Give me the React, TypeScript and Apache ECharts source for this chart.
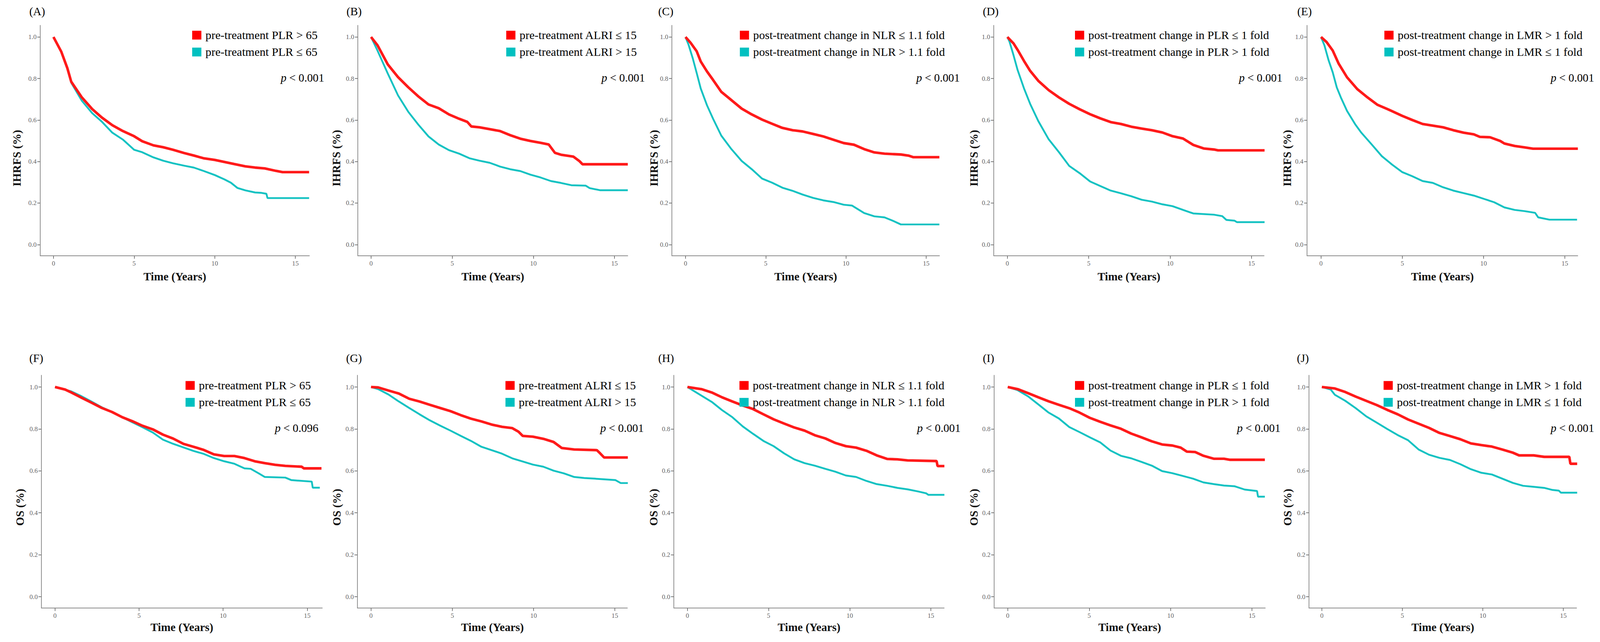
import React, { useEffect, useRef, useState } from "react";
import * as echarts from "echarts";

// ---------------- data ----------------
const panelLetters = ["(A)", "(B)", "(C)", "(D)", "(E)", "(F)", "(G)", "(H)", "(I)", "(J)"];
const yTitles = ["IHRFS (%)", "IHRFS (%)", "IHRFS (%)", "IHRFS (%)", "IHRFS (%)", "OS (%)", "OS (%)", "OS (%)", "OS (%)", "OS (%)"];
const xTitle = "Time (Years)";
const redLabels = [
  "pre-treatment PLR > 65",
  "pre-treatment ALRI ≤ 15",
  "post-treatment change in NLR ≤ 1.1 fold",
  "post-treatment change in PLR ≤ 1 fold",
  "post-treatment change in LMR > 1 fold",
  "pre-treatment PLR > 65",
  "pre-treatment ALRI ≤ 15",
  "post-treatment change in NLR ≤ 1.1 fold",
  "post-treatment change in PLR ≤ 1 fold",
  "post-treatment change in LMR > 1 fold",
];
const cyanLabels = [
  "pre-treatment PLR ≤ 65",
  "pre-treatment ALRI > 15",
  "post-treatment change in NLR > 1.1 fold",
  "post-treatment change in PLR > 1 fold",
  "post-treatment change in LMR ≤ 1 fold",
  "pre-treatment PLR ≤ 65",
  "pre-treatment ALRI > 15",
  "post-treatment change in NLR > 1.1 fold",
  "post-treatment change in PLR > 1 fold",
  "post-treatment change in LMR ≤ 1 fold",
];
const pValues = ["0.001", "0.001", "0.001", "0.001", "0.001", "0.096", "0.001", "0.001", "0.001", "0.001"];
const xTicks = [0, 5, 10, 15];
const yTicks = [0, 0.2, 0.4, 0.6, 0.8, 1.0];

// Kaplan-Meier curves: [years, survival]
const aRed = [[0,1],[0.48,0.93],[0.86,0.85],[1.1,0.785],[1.75,0.71],[2.4,0.653],[3.0,0.612],[3.65,0.575],[4.3,0.547],[5.0,0.522],[5.5,0.498],[6.2,0.478],[6.8,0.469],[7.4,0.457],[8.1,0.441],[8.7,0.429],[9.3,0.416],[10.0,0.408],[10.6,0.398],[11.2,0.388],[11.9,0.377],[12.5,0.371],[13.1,0.367],[13.8,0.355],[14.2,0.349],[15.85,0.349]];
const aCyan = [[0,1],[0.48,0.93],[0.86,0.85],[1.1,0.78],[1.75,0.694],[2.4,0.633],[3.0,0.592],[3.65,0.539],[4.3,0.506],[5.0,0.457],[5.5,0.445],[6.2,0.42],[6.8,0.404],[7.4,0.392],[8.1,0.38],[8.7,0.371],[9.3,0.355],[10.0,0.335],[10.6,0.314],[11.0,0.298],[11.4,0.273],[11.9,0.261],[12.5,0.251],[12.9,0.249],[13.2,0.245],[13.27,0.224],[15.85,0.224]];
const bRed = [[0,1],[0.4,0.96],[1.03,0.868],[1.66,0.807],[2.29,0.758],[2.91,0.714],[3.54,0.675],[4.17,0.657],[4.8,0.627],[5.43,0.606],[5.93,0.591],[6.18,0.569],[6.68,0.565],[7.31,0.556],[7.94,0.547],[8.57,0.527],[9.2,0.51],[9.82,0.499],[10.45,0.49],[10.95,0.482],[11.33,0.442],[11.7,0.433],[12.46,0.424],[12.84,0.402],[13.03,0.387],[15.82,0.387]];
const bCyan = [[0,1],[0.4,0.934],[1.03,0.824],[1.66,0.719],[2.29,0.64],[2.91,0.578],[3.54,0.521],[4.17,0.482],[4.8,0.455],[5.43,0.438],[6.06,0.416],[6.68,0.404],[7.31,0.394],[7.94,0.376],[8.57,0.363],[9.2,0.354],[9.82,0.337],[10.45,0.323],[11.08,0.306],[11.7,0.297],[12.34,0.286],[13.22,0.284],[13.47,0.272],[14.1,0.262],[15.82,0.262]];
const cRed = [[0,1],[0.32,0.972],[0.7,0.931],[0.95,0.882],[1.34,0.834],[1.72,0.793],[2.23,0.736],[2.86,0.696],[3.5,0.655],[4.13,0.627],[4.77,0.602],[5.4,0.582],[6.04,0.562],[6.68,0.551],[7.3,0.545],[7.95,0.533],[8.59,0.521],[9.22,0.505],[9.86,0.489],[10.5,0.481],[11.13,0.46],[11.77,0.444],[12.4,0.438],[13.42,0.434],[13.93,0.428],[14.2,0.421],[15.82,0.421]];
const cCyan = [[0,1],[0.19,0.963],[0.45,0.898],[0.7,0.826],[0.95,0.752],[1.34,0.671],[1.72,0.606],[2.23,0.525],[2.86,0.46],[3.5,0.403],[4.13,0.363],[4.77,0.318],[5.4,0.298],[6.04,0.274],[6.68,0.259],[7.3,0.241],[7.95,0.225],[8.59,0.213],[9.22,0.205],[9.86,0.192],[10.37,0.188],[11.13,0.152],[11.77,0.136],[12.4,0.131],[12.91,0.115],[13.42,0.097],[15.82,0.097]];
const dRed = [[0,1],[0.38,0.969],[0.63,0.938],[1.02,0.885],[1.4,0.837],[1.9,0.789],[2.54,0.744],[3.17,0.709],[3.8,0.678],[4.44,0.652],[5.08,0.628],[5.71,0.608],[6.35,0.59],[6.98,0.581],[7.61,0.568],[8.25,0.559],[8.88,0.551],[9.52,0.54],[10.15,0.522],[10.79,0.511],[11.42,0.48],[12.06,0.463],[12.69,0.458],[12.94,0.454],[15.8,0.454]];
const dCyan = [[0,1],[0.13,0.978],[0.38,0.912],[0.63,0.841],[1.02,0.753],[1.4,0.678],[1.9,0.595],[2.54,0.507],[3.17,0.445],[3.8,0.379],[4.44,0.344],[5.08,0.304],[5.71,0.282],[6.35,0.26],[6.98,0.247],[7.61,0.233],[8.25,0.216],[8.88,0.207],[9.52,0.194],[10.15,0.185],[10.79,0.167],[11.42,0.15],[12.69,0.144],[13.2,0.137],[13.45,0.119],[13.96,0.115],[14.1,0.108],[15.8,0.108]];
const eRed = [[0,1],[0.34,0.976],[0.72,0.935],[1.09,0.871],[1.6,0.806],[2.23,0.749],[2.86,0.709],[3.48,0.673],[4.11,0.652],[5.0,0.62],[5.62,0.6],[6.25,0.581],[6.88,0.573],[7.51,0.565],[8.14,0.551],[8.77,0.539],[9.4,0.531],[9.77,0.519],[10.4,0.517],[11.03,0.499],[11.28,0.487],[11.91,0.475],[12.54,0.468],[13.04,0.462],[15.8,0.462]];
const eCyan = [[0,1],[0.21,0.96],[0.47,0.887],[0.72,0.83],[0.97,0.757],[1.22,0.709],[1.6,0.644],[2.1,0.58],[2.48,0.539],[3.11,0.483],[3.74,0.426],[4.36,0.386],[5.0,0.349],[5.62,0.329],[6.25,0.306],[6.88,0.297],[7.51,0.276],[8.14,0.26],[8.77,0.248],[9.4,0.236],[10.03,0.22],[10.65,0.204],[11.28,0.179],[11.91,0.167],[12.54,0.161],[13.17,0.153],[13.36,0.131],[14.05,0.12],[15.75,0.12]];
const fRed = [[0,1],[0.6,0.988],[0.97,0.974],[1.58,0.949],[2.18,0.925],[2.79,0.9],[3.39,0.881],[4.0,0.856],[4.6,0.837],[5.21,0.815],[5.82,0.798],[6.42,0.773],[7.03,0.754],[7.64,0.729],[8.24,0.715],[8.85,0.7],[9.45,0.679],[10.06,0.671],[10.67,0.671],[11.27,0.661],[11.88,0.646],[12.48,0.637],[13.09,0.629],[13.7,0.624],[14.67,0.62],[14.8,0.612],[15.85,0.612]];
const fCyan = [[0,1],[0.97,0.979],[1.58,0.956],[2.18,0.93],[2.79,0.903],[3.39,0.881],[4.0,0.856],[4.6,0.832],[5.21,0.808],[5.82,0.783],[6.42,0.749],[7.03,0.729],[7.64,0.712],[8.24,0.695],[8.85,0.681],[9.45,0.661],[10.06,0.646],[10.67,0.634],[11.27,0.612],[11.64,0.61],[12.12,0.588],[12.48,0.571],[13.7,0.568],[14.06,0.556],[15.27,0.549],[15.33,0.52],[15.75,0.52]];
const gRed = [[0,1],[0.44,0.998],[1.08,0.983],[1.71,0.969],[2.35,0.944],[2.98,0.931],[3.62,0.915],[4.25,0.9],[4.89,0.885],[5.52,0.866],[6.15,0.849],[6.79,0.836],[7.42,0.821],[8.06,0.81],[8.69,0.804],[9.07,0.787],[9.33,0.767],[9.96,0.763],[10.6,0.753],[11.23,0.738],[11.74,0.709],[12.5,0.702],[13.89,0.699],[14.09,0.684],[14.34,0.664],[15.8,0.664]];
const gCyan = [[0,1],[0.44,0.99],[1.08,0.964],[1.71,0.931],[2.35,0.9],[2.98,0.87],[3.62,0.841],[4.25,0.816],[4.89,0.792],[5.52,0.767],[6.15,0.743],[6.79,0.715],[7.42,0.699],[8.06,0.682],[8.69,0.66],[9.33,0.645],[9.96,0.63],[10.6,0.62],[11.23,0.601],[11.87,0.588],[12.5,0.571],[13.13,0.566],[13.77,0.563],[15.04,0.556],[15.36,0.542],[15.8,0.542]];
const hRed = [[0,1],[0.86,0.99],[1.5,0.974],[2.13,0.951],[2.77,0.931],[3.41,0.912],[4.04,0.895],[4.68,0.87],[5.31,0.846],[5.95,0.826],[6.58,0.807],[7.22,0.792],[7.85,0.77],[8.49,0.755],[9.12,0.733],[9.76,0.718],[10.39,0.711],[11.03,0.696],[11.66,0.674],[12.3,0.657],[12.94,0.655],[13.57,0.65],[15.35,0.647],[15.41,0.623],[15.83,0.623]];
const hCyan = [[0,1],[0.86,0.959],[1.5,0.929],[2.13,0.89],[2.77,0.856],[3.41,0.812],[4.04,0.777],[4.68,0.743],[5.31,0.718],[5.95,0.684],[6.58,0.655],[7.22,0.637],[7.85,0.625],[8.49,0.61],[9.12,0.596],[9.76,0.578],[10.39,0.571],[11.03,0.552],[11.66,0.537],[12.3,0.529],[12.94,0.519],[13.57,0.512],[14.21,0.502],[14.71,0.493],[14.84,0.486],[15.83,0.486]];
const iRed = [[0,1],[0.61,0.99],[1.24,0.971],[1.88,0.951],[2.51,0.932],[3.14,0.915],[3.78,0.899],[4.41,0.878],[5.04,0.853],[5.68,0.834],[6.31,0.817],[6.95,0.801],[7.58,0.778],[8.21,0.76],[8.85,0.741],[9.48,0.726],[10.11,0.721],[10.62,0.711],[11.0,0.692],[11.51,0.69],[12.02,0.672],[12.65,0.658],[13.28,0.658],[13.66,0.653],[15.79,0.653]];
const iCyan = [[0,1],[0.61,0.985],[1.24,0.956],[1.88,0.917],[2.51,0.878],[3.14,0.85],[3.78,0.809],[4.41,0.785],[5.04,0.76],[5.68,0.736],[6.31,0.697],[6.95,0.672],[7.58,0.66],[8.21,0.643],[8.85,0.625],[9.48,0.599],[10.11,0.589],[10.75,0.576],[11.38,0.563],[12.02,0.545],[12.65,0.537],[13.28,0.53],[13.92,0.527],[14.55,0.511],[15.31,0.504],[15.37,0.477],[15.79,0.477]];
const jRed = [[0,1],[0.81,0.993],[1.46,0.976],[2.11,0.954],[2.76,0.934],[3.41,0.914],[4.06,0.891],[4.71,0.87],[5.36,0.845],[6.01,0.825],[6.66,0.805],[7.31,0.781],[7.96,0.766],[8.6,0.751],[9.26,0.731],[9.91,0.723],[10.56,0.716],[11.21,0.702],[11.86,0.687],[12.25,0.674],[13.16,0.674],[13.81,0.667],[15.37,0.667],[15.44,0.634],[15.86,0.634]];
const jCyan = [[0,1],[0.55,0.988],[0.81,0.963],[1.46,0.934],[2.11,0.899],[2.76,0.86],[3.41,0.83],[4.06,0.8],[4.71,0.771],[5.36,0.746],[6.01,0.702],[6.66,0.677],[7.31,0.662],[7.96,0.652],[8.6,0.632],[9.26,0.608],[9.91,0.591],[10.56,0.583],[11.21,0.563],[11.86,0.543],[12.5,0.529],[13.16,0.524],[13.81,0.519],[14.33,0.509],[14.72,0.506],[14.85,0.496],[15.86,0.496]];

const redCurves = [aRed, bRed, cRed, dRed, eRed, fRed, gRed, hRed, iRed, jRed];
const cyanCurves = [aCyan, bCyan, cCyan, dCyan, eCyan, fCyan, gCyan, hCyan, iCyan, jCyan];

// ---------------- layout (reference pixels, 4352 x 1644) ----------------
const W = 4352;
const H = 1644;
const FONT = "'Liberation Serif', 'Times New Roman', serif";
const RED = "#ff1a1a";
const CYAN = "#14c2c2";
const LEG_RED = "#ff0000";
const LEG_CYAN = "#00c0c0";
const Y_MIN = -0.054;
const Y_MAX = 1.056;

const rows = [
  { gridTop: 65, gridBottom: 655, legY: 75, pY: 199, letterY: 29, titleY: 405, xNameGap: 41 },
  { gridTop: 961, gridBottom: 1557, legY: 972, pY: 1096, letterY: 917, titleY: 1299, xNameGap: 37 },
];

const frames = [
  { ax: 109, t0: 145, t15: 803, right: 841, legX: 523, pRight: 882, letterX: 80, titleX: 46 },
  { ax: 973, t0: 1009, t15: 1671, right: 1707, legX: 1377, pRight: 1754, letterX: 942, titleX: 915 },
  { ax: 1828, t0: 1865, t15: 2519, right: 2555, legX: 2012, pRight: 2611, letterX: 1790, titleX: 1779 },
  { ax: 2703, t0: 2740, t15: 3404, right: 3438, legX: 2924, pRight: 3488, letterX: 2673, titleX: 2649 },
  { ax: 3555, t0: 3593, t15: 4256, right: 4291, legX: 3765, pRight: 4336, letterX: 3529, titleX: 3501 },
  { ax: 113, t0: 150, t15: 836, right: 877, legX: 505, pRight: 866, letterX: 80, titleX: 54 },
  { ax: 972, t0: 1009, t15: 1672, right: 1706, legX: 1375, pRight: 1751, letterX: 941, titleX: 916 },
  { ax: 1833, t0: 1870, t15: 2532, right: 2568, legX: 2011, pRight: 2613, letterX: 1790, titleX: 1778 },
  { ax: 2704, t0: 2741, t15: 3405, right: 3441, legX: 2924, pRight: 3483, letterX: 2673, titleX: 2649 },
  { ax: 3560, t0: 3595, t15: 4252, right: 4288, legX: 3763, pRight: 4336, letterX: 3528, titleX: 3502 },
];

function buildOption(sx: number, sy: number) {
  const fs = Math.min(sx, sy);
  const X = (v: number) => Math.round(v * sx);
  const Y = (v: number) => Math.round(v * sy);
  const F = (v: number) => Math.max(1, Math.round(v * fs * 10) / 10);
  const axisColor = "#8c8c8c";
  const grid: any[] = [];
  const xAxis: any[] = [];
  const yAxis: any[] = [];
  const legend: any[] = [];
  const series: any[] = [];
  const graphic: any[] = [];

  frames.forEach((f, i) => {
    const row = rows[i < 5 ? 0 : 1];
    const k = (f.t15 - f.t0) / 15;
    const xMin = -(f.t0 - f.ax) / k;
    const xMax = 15 + (f.right - f.t15) / k;

    grid.push({
      left: X(f.ax),
      top: Y(row.gridTop),
      width: X(f.right) - X(f.ax),
      height: Y(row.gridBottom) - Y(row.gridTop),
      containLabel: false,
      outerBoundsMode: "none",
    });

    xAxis.push({
      gridIndex: i,
      type: "value",
      min: xMin,
      max: xMax,
      name: xTitle,
      nameLocation: "middle",
      nameGap: F(row.xNameGap),
      nameTextStyle: { fontSize: F(31), fontWeight: "bold", color: "#111", fontFamily: FONT },
      axisLine: { show: true, onZero: false, lineStyle: { color: axisColor, width: F(2) } },
      axisTick: { show: true, customValues: xTicks, length: F(8), lineStyle: { color: "#777", width: F(2) } },
      axisLabel: { show: true, customValues: xTicks, margin: F(12), color: "#666", fontSize: F(18), fontFamily: FONT },
      splitLine: { show: false },
    });

    yAxis.push({
      gridIndex: i,
      type: "value",
      min: Y_MIN,
      max: Y_MAX,
      axisLine: { show: true, onZero: false, lineStyle: { color: axisColor, width: F(2) } },
      axisTick: { show: true, customValues: yTicks, length: F(8), lineStyle: { color: "#777", width: F(2) } },
      axisLabel: {
        show: true,
        customValues: yTicks,
        margin: F(10),
        color: "#666",
        fontSize: F(18),
        fontFamily: FONT,
        formatter: (v: number) => v.toFixed(1),
      },
      splitLine: { show: false },
    });

    legend.push({
      type: "plain",
      left: X(f.legX),
      top: Y(row.legY),
      orient: "vertical",
      padding: 0,
      itemWidth: F(25),
      itemHeight: F(24),
      itemGap: F(14),
      icon: "rect",
      selectedMode: false,
      data: [
        { name: redLabels[i], itemStyle: { color: LEG_RED } },
        { name: cyanLabels[i], itemStyle: { color: LEG_CYAN } },
      ],
      textStyle: { fontSize: F(32), lineHeight: F(24), color: "#000", fontFamily: FONT, padding: [0, 0, 0, F(6)] },
    });

    series.push({
      type: "line",
      name: cyanLabels[i],
      xAxisIndex: i,
      yAxisIndex: i,
      data: cyanCurves[i],
      showSymbol: false,
      symbol: "none",
      lineStyle: { color: CYAN, width: F(5) },
      itemStyle: { color: CYAN },
      emphasis: { disabled: true },
      z: 2,
    });
    series.push({
      type: "line",
      name: redLabels[i],
      xAxisIndex: i,
      yAxisIndex: i,
      data: redCurves[i],
      showSymbol: false,
      symbol: "none",
      lineStyle: { color: RED, width: F(7) },
      itemStyle: { color: RED },
      emphasis: { disabled: true },
      z: 3,
    });

    // panel letter
    graphic.push({
      type: "text",
      x: X(f.letterX),
      y: Y(row.letterY),
      style: {
        text: panelLetters[i],
        fontSize: F(31),
        fontFamily: FONT,
        fill: "#000",
        align: "left",
        verticalAlign: "middle",
        textAlign: "left",
        textVerticalAlign: "middle",
      },
    });
    // y-axis title (rotated)
    graphic.push({
      type: "text",
      x: X(f.titleX),
      y: Y(row.titleY),
      rotation: Math.PI / 2,
      style: {
        text: yTitles[i],
        fontSize: F(31),
        fontWeight: "bold",
        fontFamily: FONT,
        fill: "#111",
        align: "center",
        verticalAlign: "middle",
        textAlign: "center",
        textVerticalAlign: "middle",
      },
    });
    // p-value
    graphic.push({
      type: "text",
      x: X(f.pRight),
      y: Y(row.pY),
      style: {
        text: "{i|p}{n| < " + pValues[i] + "}",
        rich: {
          i: { fontStyle: "italic", fontSize: F(31), fontFamily: FONT, fill: "#000" },
          n: { fontSize: F(31), fontFamily: FONT, fill: "#000" },
        },
        fontSize: F(31),
        fontFamily: FONT,
        fill: "#000",
        align: "right",
        verticalAlign: "middle",
        textAlign: "right",
        textVerticalAlign: "middle",
      },
    });
  });

  return {
    animation: false,
    backgroundColor: "#ffffff",
    textStyle: { fontFamily: FONT },
    grid,
    xAxis,
    yAxis,
    legend,
    series,
    graphic,
    tooltip: { show: false },
  };
}

export default function App() {
  const ref = useRef<HTMLDivElement | null>(null);
  const [size] = useState(() => {
    const vw = typeof window !== "undefined" && window.innerWidth ? window.innerWidth : W;
    const vh = typeof window !== "undefined" && window.innerHeight ? window.innerHeight : H;
    return { w: vw, h: vh };
  });
  useEffect(() => {
    if (!ref.current) return;
    const chart = echarts.init(ref.current, null, { renderer: "svg", width: size.w, height: size.h });
    chart.setOption(buildOption(size.w / W, size.h / H) as any);
    return () => chart.dispose();
  }, [size]);
  return (
    <div
      ref={ref}
      style={{ position: "absolute", left: 0, top: 0, width: size.w, height: size.h, background: "#fff", overflow: "hidden" }}
    />
  );
}
